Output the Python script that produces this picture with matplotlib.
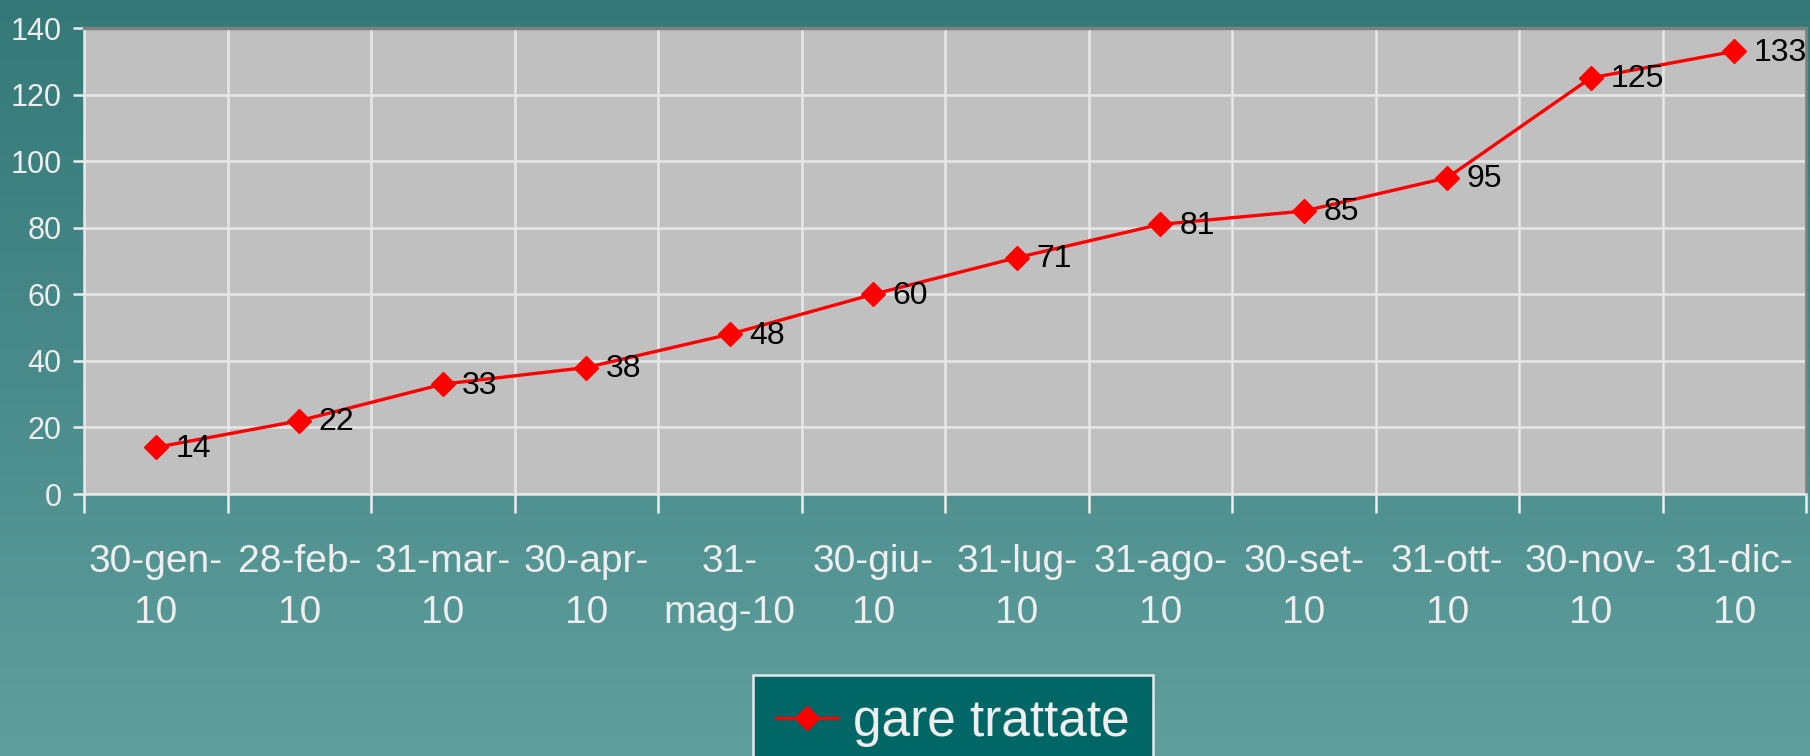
import numpy as np
import matplotlib
matplotlib.use('Agg')
import matplotlib.pyplot as plt

plt.rcParams['font.family'] = ['Liberation Sans', 'DejaVu Sans']

categories = ['30-gen-\n10', '28-feb-\n10', '31-mar-\n10', '30-apr-\n10', '31-\nmag-10', '30-giu-\n10',
              '31-lug-\n10', '31-ago-\n10', '30-set-\n10', '31-ott-\n10', '30-nov-\n10', '31-dic-\n10']
values = [14, 22, 33, 38, 48, 60, 71, 81, 85, 95, 125, 133]
series_name = 'gare trattate'
y_ticks = [0, 20, 40, 60, 80, 100, 120, 140]

W, H = 1810, 756
fig = plt.figure(figsize=(W / 100, H / 100), dpi=100)

# teal gradient background
bg = fig.add_axes([0, 0, 1, 1], zorder=-10)
top = np.array([0x34, 0x78, 0x78]) / 255
bot = np.array([0x5f, 0x9f, 0x9e]) / 255
t = np.linspace(0, 1, 256)[:, None]
grad = top[None, :] * (1 - t) + bot[None, :] * t
bg.imshow(grad[:, None, :], aspect='auto', extent=[0, 1, 0, 1])
bg.set_axis_off()

# plot area
ax = fig.add_axes([84 / W, 1 - 494 / H, (1806 - 84) / W, (494 - 28) / H])
ax.set_facecolor('#c0c0c0')

x = np.arange(len(values))
ax.plot(x, values, color='#ff0000', lw=2.4, marker='D', ms=12.5, mec='#ff0000', mfc='#ff0000', zorder=3)
for xi, v in zip(x, values):
    ax.annotate(str(v), (xi, v), xytext=(14, -1), textcoords='offset points',
                ha='left', va='center', fontsize=23, color='black', zorder=4)

ax.set_xlim(-0.5, len(values) - 0.5)
ax.set_ylim(0, 140)
ax.set_yticks(y_ticks)
ax.set_xticks(x)
ax.set_xticklabels(categories, fontsize=28, color='#eeeeee', linespacing=1.55)
ax.set_xticks(np.arange(len(values) + 1) - 0.5, minor=True)
ax.tick_params(axis='x', which='major', length=0, pad=36)
ax.tick_params(axis='x', which='minor', length=14, width=1.8, color='#eeeeee', direction='out')
ax.tick_params(axis='y', labelsize=22, labelcolor='#eeeeee', length=8, width=1.8, color='#eeeeee', pad=8)

ax.grid(True, axis='y', which='major', color='#e8e8e8', lw=1.8)
ax.grid(True, axis='x', which='minor', color='#e8e8e8', lw=1.8)
ax.grid(False, axis='x', which='major')
ax.set_axisbelow(True)

ax.spines['left'].set_color('#e8e8e8')
ax.spines['left'].set_linewidth(1.8)
ax.spines['bottom'].set_color('#e8e8e8')
ax.spines['bottom'].set_linewidth(1.8)
ax.spines['top'].set_color('#808080')
ax.spines['top'].set_linewidth(2.5)
ax.spines['right'].set_color('#808080')
ax.spines['right'].set_linewidth(2)

# legend
handle, = ax.plot([], [], color='#ff0000', lw=2.4, marker='D', ms=12.5)
leg = fig.legend([handle], [series_name], loc='upper left',
                 bbox_to_anchor=(753 / W, 1 - 675 / H), borderaxespad=0, frameon=True, fancybox=False,
                 fontsize=37, handlelength=1.2, borderpad=0.45, handletextpad=0.3,
                 labelcolor='#eeeeee')
leg.get_frame().set_facecolor('#006666')
leg.get_frame().set_edgecolor('#e8e8e8')
leg.get_frame().set_linewidth(1.8)
leg.get_frame().set_alpha(1)

fig.savefig('out.png', dpi=100)
